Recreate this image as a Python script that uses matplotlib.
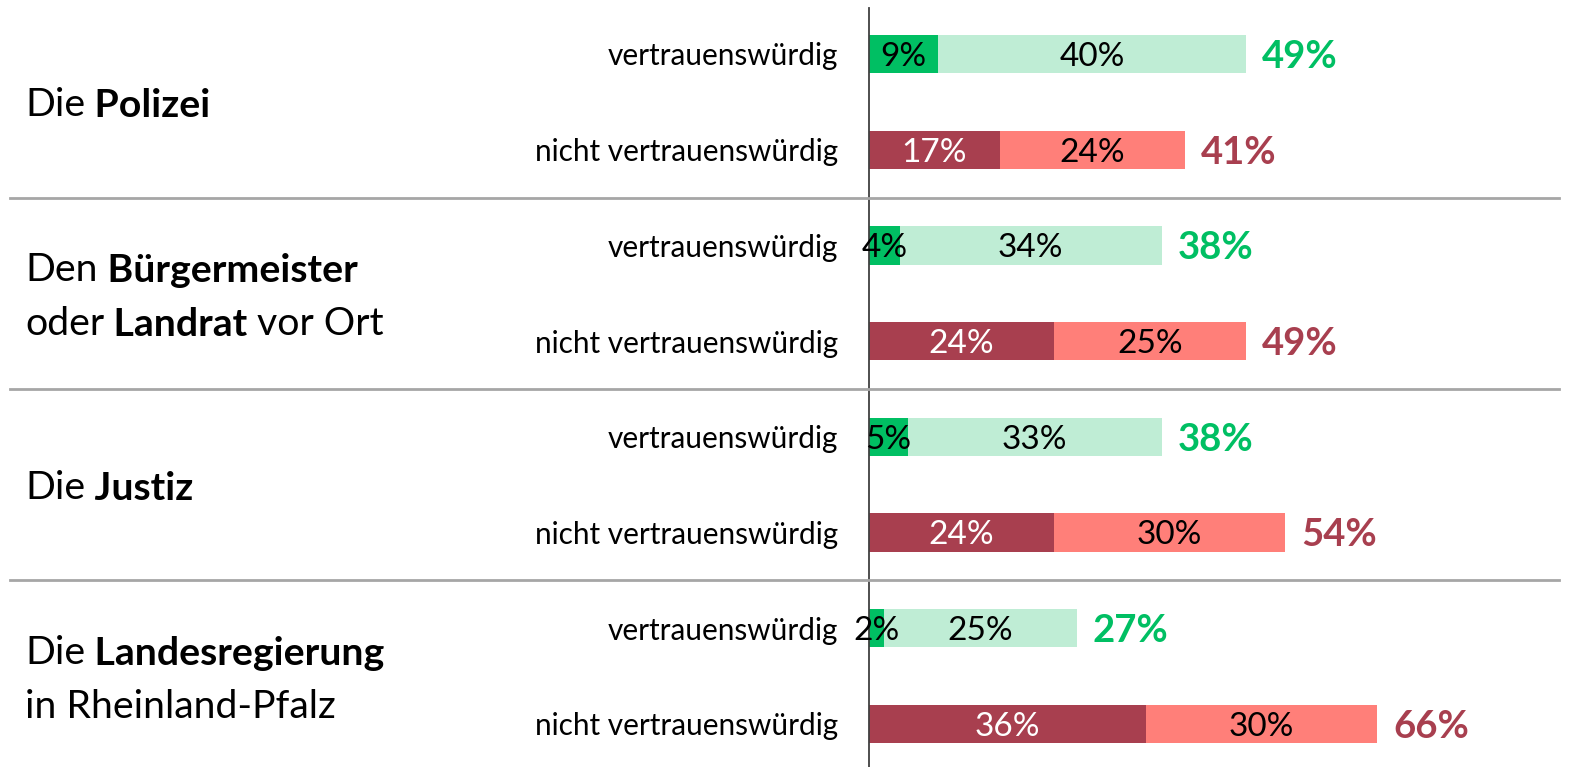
import matplotlib
matplotlib.use("Agg")
import matplotlib.pyplot as plt

plt.rcParams["font.family"] = ["Lato", "DejaVu Sans"]

# ---------------------------------------------------------------------------
# Data
# ---------------------------------------------------------------------------
ROW_LABELS = ["vertrauenswürdig", "nicht vertrauenswürdig"] * 4
# (strong part, weak part) per row, in %
STRONG = [9, 17, 4, 24, 5, 24, 2, 36]
WEAK = [40, 24, 34, 25, 33, 30, 25, 30]
TOTALS = [49, 41, 38, 49, 38, 54, 27, 66]
# group labels: list of lines, each line a list of (text, bold) pieces
GROUPS = [
    [[("Die", False), (" Polizei", True)]],
    [[("Den", False), (" Bürgermeister", True)],
     [("oder", False), (" Landrat", True), (" vor Ort", False)]],
    [[("Die", False), (" Justiz", True)]],
    [[("Die", False), (" Landesregierung", True)],
     [("in Rheinland-Pfalz", False)]],
]

# colours
GREEN_DARK = "#00BF63"
GREEN_LIGHT = "#BFEDD5"
RED_DARK = "#A83F4F"
RED_LIGHT = "#FF7F79"

# ---------------------------------------------------------------------------
# Layout (pixel based, figure is 1573 x 767 at dpi 100)
# ---------------------------------------------------------------------------
W, H = 1573, 767
X0 = 869          # pixel of the 0 % axis
PX_PER_PCT = 7.7
Y0, PITCH = 54, 95.7

fig = plt.figure(figsize=(W / 100, H / 100), dpi=100)
ax = fig.add_axes([0, 0, 1, 1])
ax.set_xlim(-X0 / PX_PER_PCT, (W - X0) / PX_PER_PCT)
ax.set_ylim((H - Y0) / PITCH, -Y0 / PITCH)
ax.axis("off")

for i, (s, w, t) in enumerate(zip(STRONG, WEAK, TOTALS)):
    positive = i % 2 == 0
    c_dark = GREEN_DARK if positive else RED_DARK
    c_light = GREEN_LIGHT if positive else RED_LIGHT
    ax.barh(i, s, height=0.40, color=c_dark, linewidth=0)
    ax.barh(i, w, left=s, height=0.40, color=c_light, linewidth=0)

    ax.text(s / 2, i, f"{s}%", ha="center", va="center_baseline",
            fontsize=24, color="black" if positive else "white")
    ax.text(s + w / 2, i, f"{w}%", ha="center", va="center_baseline",
            fontsize=24, color="black")
    ax.text(s + w + 16 / PX_PER_PCT, i, f"{t}%", ha="left",
            va="center_baseline", fontsize=27.5, fontweight="bold",
            color=c_dark)

    ax.text(-31 / PX_PER_PCT, i, ROW_LABELS[i], ha="right",
            va="center_baseline", fontsize=21.4, color="black")

# vertical zero line
ax.axvline(0, ymin=0, ymax=1 - 8 / H, color="#404040", linewidth=1.3)

# group separators
for g in range(1, len(GROUPS)):
    ax.axhline(2 * g - 0.5, xmin=10 / W, xmax=1559 / W, color="#A6A6A6",
               linewidth=2)

# group labels with partial bold
LINE_GAP = 54 / PITCH
for g, lines in enumerate(GROUPS):
    mid = 2 * g + 0.5
    n = len(lines)
    for k, pieces in enumerate(lines):
        y = mid + (k - (n - 1) / 2) * LINE_GAP
        prev = None
        for txt, bold in pieces:
            weight = "bold" if bold else "normal"
            if prev is None:
                prev = ax.text(-844 / PX_PER_PCT, y, txt, ha="left",
                               va="center_baseline", fontsize=28.3,
                               fontweight=weight)
            else:
                prev = ax.annotate(txt, xy=(1, 0), xycoords=prev,
                                   ha="left", va="bottom", fontsize=28.3,
                                   fontweight=weight)

fig.savefig("out.png", dpi=100)
